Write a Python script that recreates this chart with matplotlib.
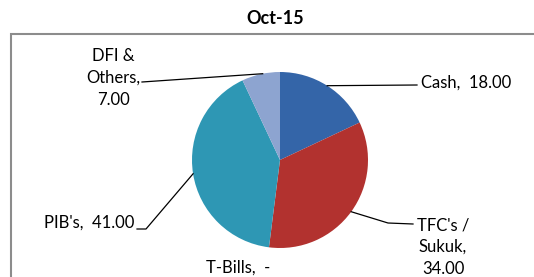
import matplotlib.pyplot as plt
import numpy as np
from matplotlib.patches import Rectangle

# data
names = ["Cash", "TFC's /\nSukuk", "T-Bills", "PIB's", "DFI &\nOthers"]
values = [18.0, 34.0, 0.0, 41.0, 7.0]
colors = ['#3465A8', '#B2322F', '#4F81BD', '#2E97B4', '#8DA4D0']
title = 'Oct-15'

# label layout (pixel coords of a 534x277 canvas, y downwards)
seps = ['  ', '\n', '  ', '  ', '\n']
text_pos = [(421, 83), (443, 247), (238, 268), (134, 223), (113, 78)]
text_ha = ['left', 'center', 'center', 'right', 'center']
elbows = [[(417, 85)], [(388, 223), (413, 224)], None, [(146, 229), (137, 229)], [(142, 82)]]
anchor_frac = [0.5, 0.5, 0.5, 0.5, 0.55]

plt.rcParams['font.family'] = ['Lato', 'DejaVu Sans']

fig = plt.figure(figsize=(5.34, 2.77), dpi=100)
ax = fig.add_axes([0, 0, 1, 1])

cx, cy, r = 280, 160, 88
# y axis inverted -> start at -90 and go counterclockwise in data = clockwise on screen
wedges, _ = ax.pie(values, colors=colors, startangle=-90, counterclock=True,
                   center=(cx, cy), radius=r, wedgeprops=dict(linewidth=0))
ax.set_xlim(0, 534)
ax.set_ylim(277, 0)
ax.set_aspect('auto')
ax.axis('off')

for i, w in enumerate(wedges):
    v = values[i]
    txt = names[i] + ',' + seps[i] + (f'{v:.2f}' if v else '-')
    ax.text(text_pos[i][0], text_pos[i][1], txt, ha=text_ha[i], va='center',
            fontsize=12, linespacing=1.45, color='black')
    if elbows[i] is None:
        continue
    ang = np.deg2rad(w.theta1 + anchor_frac[i] * (w.theta2 - w.theta1))
    ax_pt = (cx + r * np.cos(ang), cy + r * np.sin(ang))
    pts = [ax_pt] + elbows[i]
    ax.plot([p[0] for p in pts], [p[1] for p in pts], color='black', lw=0.9)

fig.text(275 / 534, 1 - 19 / 277, title, ha='center', va='center',
         fontsize=13, fontweight='bold')

fig.patches.append(Rectangle((10.5 / 534, -0.1), 2, 1.1 - 34 / 277,
                             transform=fig.transFigure, fill=False,
                             edgecolor='#8c8c8c', lw=1.5))

fig.savefig('out.png', dpi=100)
